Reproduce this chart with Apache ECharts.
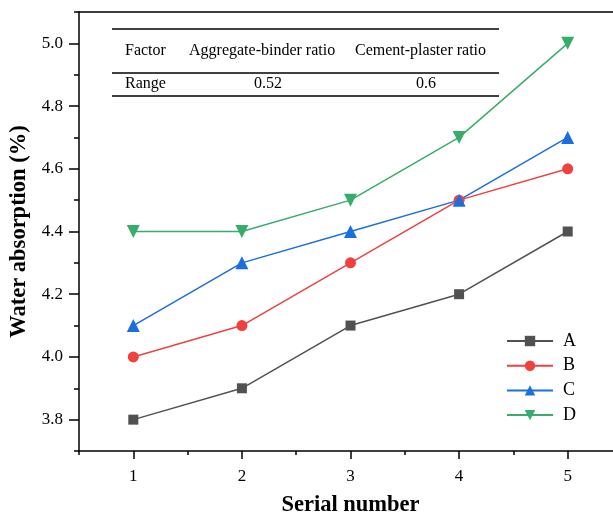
<!DOCTYPE html>
<html>
<head>
<meta charset="utf-8">
<script src="https://cdn.jsdelivr.net/npm/echarts@6/dist/echarts.min.js"></script>
<style>
  html, body { margin: 0; padding: 0; background: #fff; }
  #main { width: 613px; height: 516px; }
</style>
</head>
<body>
<div id="main"></div>
<script>
// 数据
var serials = ["1", "2", "3", "4", "5"];
var yTickLabels = ["3.8", "4.0", "4.2", "4.4", "4.6", "4.8", "5.0"];
var seriesA = [3.8, 3.9, 4.1, 4.2, 4.4];
var seriesB = [4.0, 4.1, 4.3, 4.5, 4.6];
var seriesC = [4.1, 4.3, 4.4, 4.5, 4.7];
var seriesD = [4.4, 4.4, 4.5, 4.7, 5.0];
var tableHead = ["Factor", "Aggregate-binder ratio", "Cement-plaster ratio"];
var tableRange = ["Range", "0.52", "0.6"];

var serif = "Liberation Serif";
var myChart = echarts.init(document.getElementById("main"));

function lineSeries(name, data, color, symbol, size, rotate) {
  return {
    name: name,
    type: "line",
    xAxisIndex: 0,
    yAxisIndex: 2,
    data: data,
    symbol: symbol,
    symbolSize: size,
    symbolRotate: rotate || 0,
    lineStyle: { color: color, width: 1.5 },
    itemStyle: { color: color },
    z: 3,
  };
}

var axisLine = { show: true, lineStyle: { color: "#000", width: 1.5 } };

// 表格
var tableFont = "16px " + serif;
var graphics = [
  { type: "line", shape: { x1: 112, y1: 29, x2: 499, y2: 29 }, style: { stroke: "#000", lineWidth: 1.5 } },
  { type: "line", shape: { x1: 112, y1: 73, x2: 499, y2: 73 }, style: { stroke: "#000", lineWidth: 1.5 } },
  { type: "line", shape: { x1: 112, y1: 96, x2: 499, y2: 96 }, style: { stroke: "#000", lineWidth: 1.5 } },
  { type: "text", x: 125, y: 51, style: { text: tableHead[0], font: tableFont, fill: "#000", textAlign: "left", textVerticalAlign: "middle" } },
  { type: "text", x: 189, y: 51, style: { text: tableHead[1], font: tableFont, fill: "#000", textAlign: "left", textVerticalAlign: "middle" } },
  { type: "text", x: 355, y: 51, style: { text: tableHead[2], font: tableFont, fill: "#000", textAlign: "left", textVerticalAlign: "middle" } },
  { type: "text", x: 125, y: 84, style: { text: tableRange[0], font: tableFont, fill: "#000", textAlign: "left", textVerticalAlign: "middle" } },
  { type: "text", x: 268, y: 84, style: { text: tableRange[1], font: tableFont, fill: "#000", textAlign: "center", textVerticalAlign: "middle" } },
  { type: "text", x: 426, y: 84, style: { text: tableRange[2], font: tableFont, fill: "#000", textAlign: "center", textVerticalAlign: "middle" } },
];

var option = {
  animation: false,
  backgroundColor: "#fff",
  grid: { left: 79, top: 12, width: 543, height: 439, containLabel: false, outerBoundsMode: "none" },
  legend: {
    orient: "vertical",
    left: 501,
    top: 327,
    itemWidth: 46,
    itemHeight: 13,
    itemGap: 6.7,
    textStyle: { fontFamily: serif, fontSize: 18, color: "#000", padding: [0, 0, 0, 5] },
    data: ["A", "B", "C", "D"],
  },
  xAxis: [
    {
      type: "category",
      data: serials,
      position: "bottom",
      boundaryGap: true,
      axisLine: axisLine,
      axisTick: { show: true, alignWithLabel: true, length: 8, lineStyle: { color: "#000", width: 1.5 } },
      axisLabel: { fontFamily: serif, fontSize: 17, color: "#000", margin: 17 },
      name: "Serial number",
      nameLocation: "middle",
      nameGap: 43,
      nameTextStyle: { fontFamily: serif, fontSize: 22.5, fontWeight: "bold", color: "#000" },
      splitLine: { show: false },
    },
    {
      type: "category",
      data: serials,
      position: "bottom",
      boundaryGap: true,
      axisLine: { show: false },
      axisTick: { show: true, alignWithLabel: false, length: 4, lineStyle: { color: "#000", width: 1.5 } },
      axisLabel: { show: false },
      splitLine: { show: false },
    },
    {
      type: "category",
      data: serials,
      position: "top",
      axisLine: axisLine,
      axisTick: { show: false },
      axisLabel: { show: false },
      splitLine: { show: false },
    },
  ],
  yAxis: [
    {
      type: "category",
      data: yTickLabels,
      position: "left",
      boundaryGap: true,
      axisLine: axisLine,
      axisTick: { show: true, alignWithLabel: true, length: 10, lineStyle: { color: "#000", width: 1.5 } },
      axisLabel: { fontFamily: serif, fontSize: 17, color: "#000", margin: 16 },
      name: "Water absorption (%)",
      nameLocation: "middle",
      nameGap: 41,
      nameTextStyle: { fontFamily: serif, fontSize: 22.5, fontWeight: "bold", color: "#000" },
      splitLine: { show: false },
    },
    {
      type: "category",
      data: yTickLabels,
      position: "left",
      boundaryGap: true,
      axisLine: { show: false },
      axisTick: { show: true, alignWithLabel: false, length: 5, lineStyle: { color: "#000", width: 1.5 } },
      axisLabel: { show: false },
      splitLine: { show: false },
    },
    {
      type: "value",
      min: 3.7,
      max: 5.1,
      show: false,
      splitLine: { show: false },
    },
  ],
  graphic: graphics,
  series: [
    lineSeries("A", seriesA, "#515151", "rect", 10),
    lineSeries("B", seriesB, "#F14040", "circle", 11),
    lineSeries("C", seriesC, "#1A6FDF", "triangle", 13),
    lineSeries("D", seriesD, "#37AD6B", "triangle", 13, 180),
  ],
};
myChart.setOption(option);
</script>
</body>
</html>
